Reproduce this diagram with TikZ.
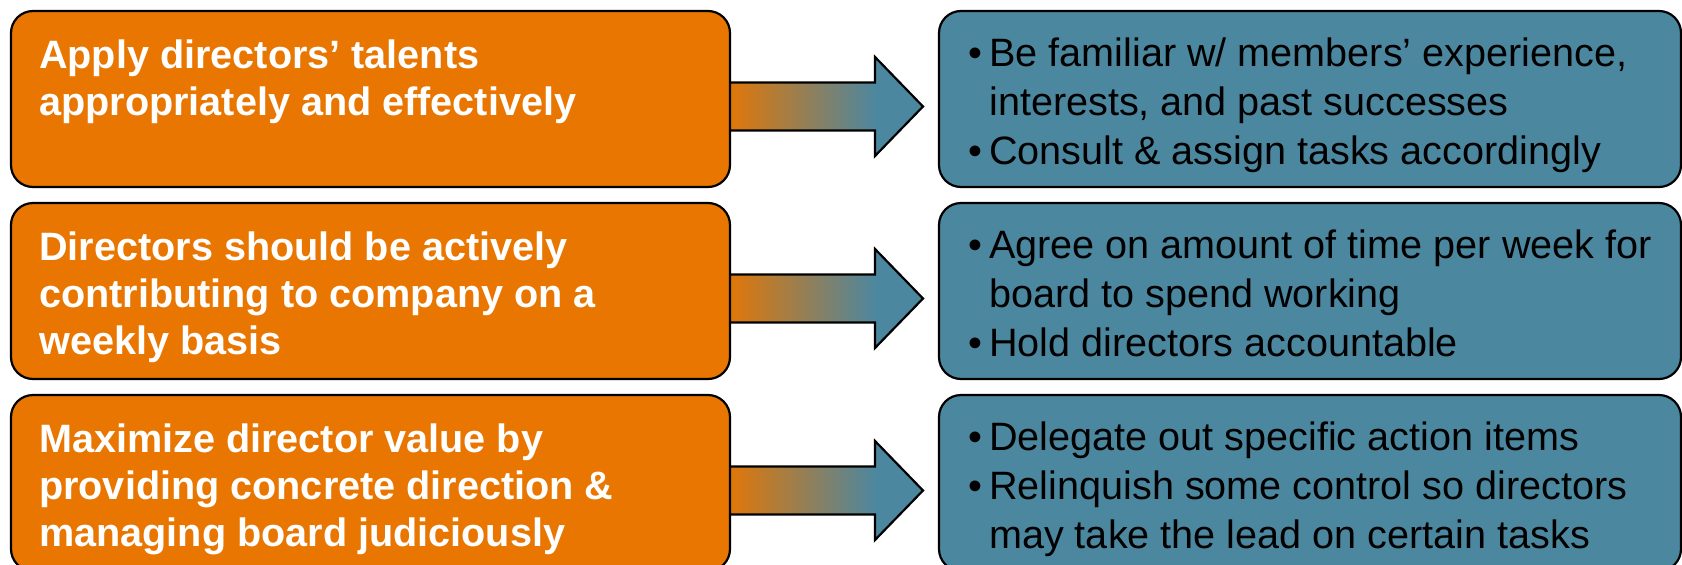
\documentclass[tikz,border=0pt]{standalone}
\usepackage{fontspec}
\setmainfont{Liberation Sans}
\usetikzlibrary{calc,backgrounds}
\definecolor{orng}{HTML}{E87600}
\definecolor{blu}{HTML}{4C87A0}
\tikzset{
  box/.style={draw=black, line width=2.2pt, rounded corners=22pt, minimum height=176pt, inner sep=0pt, outer sep=0pt},
  lbox/.style={box, fill=orng, minimum width=719pt},
  rbox/.style={box, fill=blu, minimum width=742pt},
  ltext/.style={anchor=north west, inner sep=0pt, align=left, text=white, font=\fontsize{39.6}{47}\selectfont\bfseries},
  rtext/.style={anchor=north west, inner sep=0pt, align=left, text=black, font=\fontsize{39.6}{49}\selectfont},
  arrowline/.style={draw=black, line width=2.2pt, line join=miter},
}
\newcommand{\bul}{\makebox[21pt][l]{•}}
\newcommand{\ind}{\hspace*{21pt}}
\begin{document}
\begin{tikzpicture}[x=1pt, y=-1pt]
\useasboundingbox (0,0) rectangle (1682,565);
% boxes
\node[lbox] (l1) at (370.5,99) {};
\node[lbox] (l2) at (370.5,291) {};
\node[lbox] (l3) at (370.5,483) {};
\node[rbox] (r1) at (1310,99) {};
\node[rbox] (r2) at (1310,291) {};
\node[rbox] (r3) at (1310,483) {};
% arrows
\begin{scope}[on background layer]
\foreach \i in {1,2,3} {
  \coordinate (s\i) at ($(l\i.east)+(-8,7.5)$);
  \coordinate (t\i) at ($(r\i.west)+(-16,7.5)$);
  \fill[left color=orng, right color=blu] ($(s\i)+(0,-24)$) rectangle ($(t\i)+(-47,24)$);
  \fill[blu] ($(t\i)+(-48.5,-49.5)$) -- (t\i) -- ($(t\i)+(-48.5,49.5)$) -- cycle;
  \draw[arrowline] ($(s\i)+(0,-24)$) -- ($(t\i)+(-48,-24)$) -- ($(t\i)+(-48,-49.5)$) -- (t\i)
     -- ($(t\i)+(-48,49.5)$) -- ($(t\i)+(-48,24)$) -- ($(s\i)+(0,24)$);
}
\end{scope}
% left texts
\node[ltext] (lt1) at ($(l1.north west)+(28,24)$) {\strut Apply directors’ talents\\appropriately and effectively};
\node[ltext] (lt2) at ($(l2.north west)+(28,24)$) {\strut Directors should be actively\\contributing to company on a\\weekly basis};
\node[ltext] (lt3) at ($(l3.north west)+(28,24)$) {\strut Maximize director value by\\providing concrete direction \&\\managing board judiciously};
% right texts
\node[rtext] (rt1) at ($(r1.north west)+(29,20.5)$) {\strut\bul Be familiar w/ members’ experience,\\\ind interests, and past successes\\\bul Consult \& assign tasks accordingly};
\node[rtext] (rt2) at ($(r2.north west)+(29,20.5)$) {\strut\bul Agree on amount of time per week for\\\ind board to spend working\\\bul Hold directors accountable};
\node[rtext] (rt3) at ($(r3.north west)+(29,20.5)$) {\strut\bul Delegate out specific action items\\\bul Relinquish some control so directors\\\ind may take the lead on certain tasks};
\end{tikzpicture}
\end{document}
